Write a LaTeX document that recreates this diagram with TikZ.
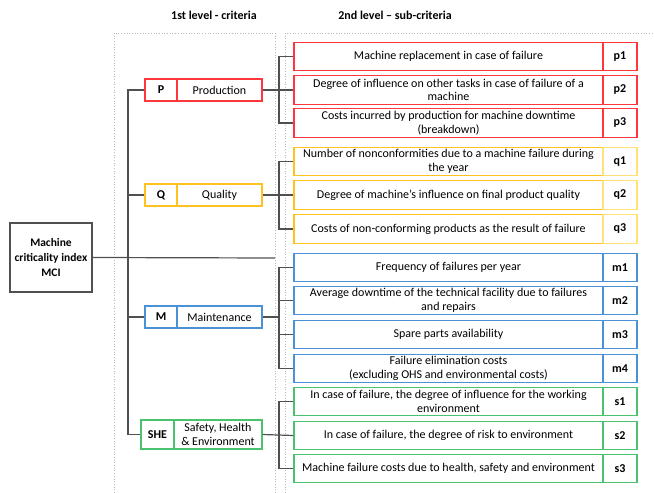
\documentclass[tikz,border=0pt]{standalone}
\usepackage{fontspec}
\setmainfont{Carlito}
\usepackage{xcolor}
\usepackage{tikz}
\usetikzlibrary{calc}

\definecolor{prodred}{RGB}{255,55,60}
\definecolor{qualgold}{RGB}{255,195,30}
\definecolor{qualpale}{RGB}{255,225,120}
\definecolor{maintblue}{RGB}{75,145,215}
\definecolor{shegreen}{RGB}{75,195,110}
\definecolor{linegray}{RGB}{80,80,80}

\begin{document}
\begin{tikzpicture}[x=1pt,y=-1pt,
    conn/.style={draw=linegray,line width=1.2pt},
    frame/.style={draw=gray!55,line width=0.7pt,dotted},
    head/.style={font=\fontsize{12}{13}\selectfont\bfseries},
    subtext/.style={draw,line width=1.1pt,minimum width=309pt,minimum height=28.5pt,
      inner sep=0pt,align=center,font=\fontsize{12}{13.5}\selectfont},
    subcode/.style={draw,line width=1.1pt,minimum width=34pt,minimum height=28.5pt,
      inner sep=0pt,font=\fontsize{12}{13}\selectfont\bfseries},
    catcode/.style={draw,line width=1.1pt,minimum width=32pt,minimum height=22pt,
      inner sep=0pt,font=\fontsize{12}{13}\selectfont\bfseries},
    catname/.style={draw,line width=1.1pt,minimum width=85pt,minimum height=22pt,
      inner sep=0pt,align=center,font=\fontsize{12}{13}\selectfont}]
  \useasboundingbox (0,0) rectangle (654,493);

  % dotted frames of the two levels
  \draw[frame] (114,33) rectangle (275,505);
  \draw[frame] (285,33) rectangle (665,505);
  \node[head] (h1) at (214,15) {1st level - criteria};
  \node[head] (h2) at (395,15) {2nd level -- sub-criteria};

  % index
  \node[draw=linegray,line width=1.3pt,minimum width=82pt,minimum height=69pt,
        inner sep=0pt,align=center,font=\fontsize{11.5}{15}\selectfont\bfseries]
        (mci) at (51,257.5) {Machine\\criticality index\\MCI};
  \coordinate (mciend) at (275,258);
  \coordinate (trunk) at (128,0);
  \coordinate (br) at (279,0);

  % 1st level
  \node[catcode,draw=prodred] (pk) at (161,90) {P};
  \node[catname,draw=prodred] (pn) at (219.5,90) {Production};
  \node[catcode,draw=qualgold] (qk) at (161,195) {Q};
  \node[catname,draw=qualgold] (qn) at (219.5,195) {Quality};
  \node[catcode,draw=maintblue] (mk) at (161,317) {M};
  \node[catname,draw=maintblue] (mn) at (219.5,317) {Maintenance};
  \node[catcode,draw=shegreen,minimum width=33pt,minimum height=29pt] (shek) at (157.5,434.5) {SHE};
  \node[catname,draw=shegreen,minimum width=88pt,minimum height=29pt,
        font=\fontsize{12}{13.5}\selectfont] (shen) at (218,434.5) {Safety, Health\\\& Environment};

  % 2nd level - production
  \node[subtext,draw=prodred] (p1) at (448.5,56.5) {Machine replacement in case of failure};
  \node[subcode,draw=prodred] (p1c) at (620,56.5) {p1};
  \node[subtext,draw=prodred] (p2) at (448.5,90) {Degree of influence on other tasks in case of failure of a\\machine};
  \node[subcode,draw=prodred] (p2c) at (620,90) {p2};
  \node[subtext,draw=prodred] (p3) at (448.5,123) {Costs incurred by production for machine downtime\\(breakdown)};
  \node[subcode,draw=prodred] (p3c) at (620,123) {p3};

  % 2nd level - quality
  \node[subtext,draw=qualgold] (q1) at (448.5,161.5) {Number of nonconformities due to a machine failure during\\the year};
  \node[subcode,draw=qualpale] (q1c) at (620,161.5) {q1};
  \node[subtext,draw=qualgold] (q2) at (448.5,195) {Degree of machine’s influence on final product quality};
  \node[subcode,draw=qualpale] (q2c) at (620,195) {q2};
  \node[subtext,draw=qualgold] (q3) at (448.5,229) {Costs of non-conforming products as the result of failure};
  \node[subcode,draw=qualpale] (q3c) at (620,229) {q3};

  % 2nd level - maintenance
  \node[subtext,draw=maintblue] (m1) at (448.5,267.5) {Frequency of failures per year};
  \node[subcode,draw=maintblue] (m1c) at (620,267.5) {m1};
  \node[subtext,draw=maintblue] (m2) at (448.5,300.5) {Average downtime of the technical facility due to failures\\and repairs};
  \node[subcode,draw=maintblue] (m2c) at (620,300.5) {m2};
  \node[subtext,draw=maintblue] (m3) at (448.5,334.5) {Spare parts availability};
  \node[subcode,draw=maintblue] (m3c) at (620,334.5) {m3};
  \node[subtext,draw=maintblue] (m4) at (448.5,368.5) {Failure elimination costs\\(excluding OHS and environmental costs)};
  \node[subcode,draw=maintblue] (m4c) at (620,368.5) {m4};

  % 2nd level - safety, health & environment
  \node[subtext,draw=shegreen] (s1) at (448.5,401.5) {In case of failure, the degree of influence for the working\\environment};
  \node[subcode,draw=shegreen] (s1c) at (620,401.5) {s1};
  \node[subtext,draw=shegreen] (s2) at (448.5,435.5) {In case of failure, the degree of risk to environment};
  \node[subcode,draw=shegreen] (s2c) at (620,435.5) {s2};
  \node[subtext,draw=shegreen] (s3) at (448.5,468.5) {Machine failure costs due to health, safety and environment};
  \node[subcode,draw=shegreen] (s3c) at (620,468.5) {s3};

  % index to criteria
  \draw[conn] (mci.east) -- (mciend);
  \draw[conn] (pk.west) -- (pk.west -| trunk) -- (shek.west -| trunk) -- (shek.west);
  \draw[conn] (qk.west) -- (qk.west -| trunk);
  \draw[conn] (mk.west) -- (mk.west -| trunk);

  % criteria to sub-criteria
  \draw[conn] (pn.east) -- (p2.west);
  \draw[conn] (p1.west) -- (p1.west -| br) -- (p3.west -| br) -- (p3.west);
  \draw[conn] (qn.east) -- (q2.west);
  \draw[conn] (q1.west) -- (q1.west -| br) -- (q3.west -| br) -- (q3.west);
  \draw[conn] (mn.east) -- (mn.east -| br);
  \draw[conn] (m1.west) -- (m1.west -| br) -- (m4.west -| br) -- (m4.west);
  \draw[conn] (m2.west) -- (m2.west -| br);
  \draw[conn] (m3.west) -- (m3.west -| br);
  \draw[conn] (shen.east) -- (s2.west);
  \draw[conn] (s1.west) -- (s1.west -| br) -- (s3.west -| br) -- (s3.west);
\end{tikzpicture}
\end{document}
